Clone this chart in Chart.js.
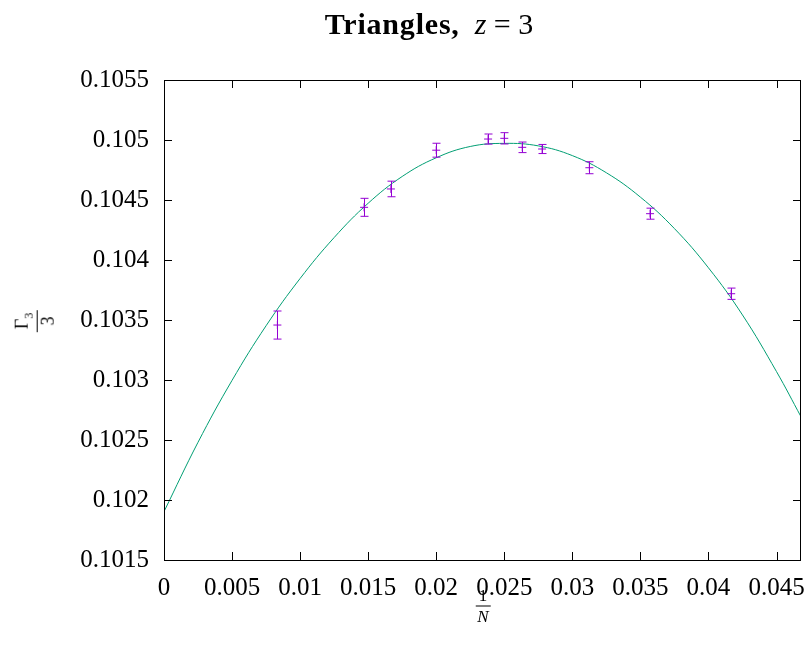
<!DOCTYPE html>
<html>
<head>
<meta charset="utf-8">
<script src="https://cdn.jsdelivr.net/npm/chart.js@4.4.0/dist/chart.umd.min.js"></script>
<style>
  html,body{margin:0;padding:0;background:#fff;}
  #wrap{position:relative;width:806px;height:646px;overflow:hidden;}
  canvas{position:absolute;left:0;top:0;}
  .lbl{position:absolute;font-family:"Liberation Serif","DejaVu Serif",serif;color:#000;white-space:nowrap;}
  .frac{display:inline-flex;flex-direction:column;align-items:center;line-height:1;}
  .frac .num{padding:0 3px 2px 3px;border-bottom:1px solid #000;}
  .frac .den{padding-top:1px;}
</style>
</head>
<body>
<div id="wrap">
  <canvas id="c" width="806" height="646"></canvas>
  <div class="lbl" id="title" style="left:429px;top:24px;font-size:30px;transform:translate(-50%,-50%);"><b style="letter-spacing:0.8px;">Triangles,</b>&nbsp; <i>z</i> = 3</div>
  <div class="lbl" id="ylab" style="left:34px;top:321px;font-size:18px;transform:translate(-50%,-50%) rotate(-90deg);">
    <span class="frac"><span class="num">Γ<sub style="font-size:12px;">3</sub></span><span class="den">3</span></span>
  </div>
  <div class="lbl" id="xlab" style="left:483px;top:605px;font-size:17px;transform:translate(-50%,-50%);">
    <span class="frac"><span class="num">1</span><span class="den"><i>N</i></span></span>
  </div>
</div>
<script>
// Measured data points (x = 1/N)
const invN = [0.00833, 0.0147, 0.01667, 0.02, 0.02381, 0.025, 0.02632, 0.02778, 0.03125, 0.03571, 0.04167];
const gamma = [0.103458, 0.104439, 0.104592, 0.104915, 0.105008, 0.105014, 0.104939, 0.104925, 0.104769, 0.104386, 0.103719];
const gammaErr = [0.000117, 0.000075, 0.000065, 0.000058, 0.000042, 0.000047, 0.000044, 0.000038, 0.00005, 0.000046, 0.000047];

// Fit curve values
const fitX = [0, 0.0025, 0.005, 0.0075, 0.01, 0.0125, 0.015, 0.0175, 0.02, 0.0225, 0.025, 0.0275, 0.03, 0.0325, 0.035, 0.0375, 0.04, 0.0425, 0.045, 0.0468];
const fitY = [0.101903, 0.102481, 0.102997, 0.103452, 0.103846, 0.104187, 0.104473, 0.104696, 0.104852, 0.104946, 0.104972, 0.104951, 0.104870, 0.104727, 0.104524, 0.104262, 0.103935, 0.103542, 0.103070, 0.102694];

const xTicks = [0, 0.005, 0.01, 0.015, 0.02, 0.025, 0.03, 0.035, 0.04, 0.045];
const yTicks = [0.1015, 0.102, 0.1025, 0.103, 0.1035, 0.104, 0.1045, 0.105, 0.1055];

const fmt = v => String(Number(v.toFixed(5)));

const frameAndErr = {
  id: 'frameAndErr',
  afterDatasetsDraw(chart) {
    const ctx = chart.ctx, a = chart.chartArea;
    const xs = chart.scales.x, ys = chart.scales.y;
    ctx.save();
    // error bars
    ctx.strokeStyle = '#9400d3';
    ctx.lineWidth = 1;
    for (let i = 0; i < invN.length; i++) {
      const px = Math.round(xs.getPixelForValue(invN[i])) + 0.5;
      const top = ys.getPixelForValue(gamma[i] + gammaErr[i]);
      const bot = ys.getPixelForValue(gamma[i] - gammaErr[i]);
      ctx.beginPath();
      ctx.moveTo(px, top); ctx.lineTo(px, bot);
      ctx.moveTo(px - 4, top); ctx.lineTo(px + 4, top);
      ctx.moveTo(px - 4, bot); ctx.lineTo(px + 4, bot);
      ctx.stroke();
    }
    // frame
    ctx.strokeStyle = '#000';
    ctx.lineWidth = 1;
    ctx.strokeRect(Math.round(a.left) + 0.5, Math.round(a.top) + 0.5, Math.round(a.right - a.left) - 1, Math.round(a.bottom - a.top));
    // inward ticks (mirrored)
    ctx.beginPath();
    for (const t of yTicks) {
      const py = Math.round(ys.getPixelForValue(t)) + 0.5;
      ctx.moveTo(a.left, py); ctx.lineTo(a.left + 8, py);
      ctx.moveTo(a.right, py); ctx.lineTo(a.right - 8, py);
    }
    for (const t of xTicks) {
      const px = Math.round(xs.getPixelForValue(t)) + 0.5;
      ctx.moveTo(px, a.bottom); ctx.lineTo(px, a.bottom - 8);
      ctx.moveTo(px, a.top); ctx.lineTo(px, a.top + 8);
    }
    ctx.stroke();
    ctx.restore();
  }
};

new Chart(document.getElementById('c'), {
  type: 'scatter',
  data: {
    datasets: [
      {
        label: 'fit',
        data: fitX.map((x, i) => ({x, y: fitY[i]})),
        showLine: true,
        borderColor: '#009e73',
        borderWidth: 1,
        pointRadius: 0,
        tension: 0.4,
        order: 2
      },
      {
        label: 'data',
        data: invN.map((x, i) => ({x, y: gamma[i]})),
        pointStyle: 'cross',
        pointRadius: 4,
        borderColor: '#9400d3',
        borderWidth: 1,
        backgroundColor: '#9400d3',
        order: 1
      }
    ]
  },
  options: {
    responsive: false,
    animation: false,
    layout: { padding: { top: 80, right: 3, left: 0, bottom: 0 } },
    plugins: { legend: { display: false }, tooltip: { enabled: false }, title: { display: false } },
    scales: {
      x: {
        type: 'linear',
        min: 0, max: 0.0468,
        grid: { display: false, drawTicks: false },
        border: { display: false },
        afterFit: s => { s.height = 86; s.paddingLeft = 0; s.paddingRight = 0; },
        afterBuildTicks: s => { s.ticks = xTicks.map(v => ({value: v})); },
        ticks: {
          color: '#000',
          padding: 13,
          maxRotation: 0,
          autoSkip: false,
          font: { family: '"Liberation Serif", serif', size: 25 },
          callback: v => fmt(v)
        }
      },
      y: {
        type: 'linear',
        min: 0.1015, max: 0.1055,
        grid: { display: false, drawTicks: false },
        border: { display: false },
        afterFit: s => { s.width = 164; s.paddingTop = 0; s.paddingBottom = 0; },
        afterBuildTicks: s => { s.ticks = yTicks.map(v => ({value: v})); },
        ticks: {
          color: '#000',
          padding: 15,
          autoSkip: false,
          font: { family: '"Liberation Serif", serif', size: 25 },
          callback: v => fmt(v)
        }
      }
    }
  },
  plugins: [frameAndErr]
});
</script>
</body>
</html>
